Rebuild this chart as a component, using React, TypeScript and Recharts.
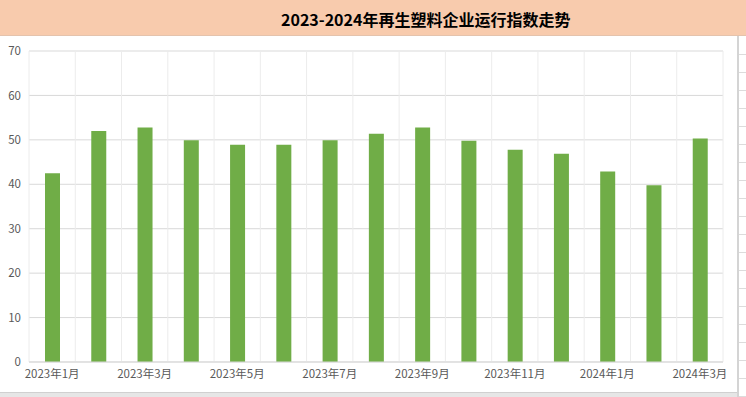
import { BarChart, Bar, XAxis, YAxis, CartesianGrid } from "recharts";

// months shown on the category axis
const months = [
  "2023年1月", "2023年2月", "2023年3月", "2023年4月", "2023年5月",
  "2023年6月", "2023年7月", "2023年8月", "2023年9月", "2023年10月",
  "2023年11月", "2023年12月", "2024年1月", "2024年2月", "2024年3月",
];

// operating index
const indexValues = [
  42.5, 52.0, 52.8, 49.9, 48.9, 48.9, 49.9, 51.4, 52.8, 49.8, 47.8, 46.9, 42.9, 39.8, 50.3,
];

const yTicks = [0, 10, 20, 30, 40, 50, 60, 70];

const title = "2023-2024年再生塑料企业运行指数走势";

const data = months.map((m, i) => ({ month: m, value: indexValues[i] }));

const FONT = '"Noto Sans CJK SC", "Noto Sans", sans-serif';
const tickStyle = { fill: "#595959", fontSize: 11.5, fontFamily: FONT };

// spreadsheet row lines on the right strip
const rowLines = Array.from({ length: 20 }, (_, i) => 36 + i * 18);

export default function App() {
  return (
    <div
      style={{
        position: "absolute",
        left: 0,
        top: 0,
        width: 746,
        height: 397,
        background: "#e6e6e6",
        overflow: "hidden",
      }}
    >
      {/* title band */}
      <div
        style={{
          position: "absolute",
          left: 0,
          top: 0,
          width: 746,
          height: 36,
          background: "#f8cbad",
          borderBottom: "1px solid #e4c3ad",
          boxSizing: "border-box",
        }}
      >
        <div
          style={{
            position: "absolute",
            left: 281,
            top: 7,
            fontFamily: FONT,
            fontWeight: 700,
            fontSize: 16,
            color: "#000",
            whiteSpace: "nowrap",
          }}
        >
          {title}
        </div>
      </div>

      {/* right strip */}
      <div
        style={{
          position: "absolute",
          left: 737,
          top: 36,
          width: 9,
          height: 361,
          background: "#fff",
          borderLeft: "2px solid #d4d4d4",
          boxSizing: "border-box",
        }}
      >
        {rowLines.map((y) => (
          <div
            key={y}
            style={{
              position: "absolute",
              left: 0,
              top: y - 36 + 18,
              width: 9,
              height: 1,
              background: "#dcdcdc",
            }}
          />
        ))}
      </div>

      {/* chart panel */}
      <div
        style={{
          position: "absolute",
          left: 0,
          top: 36,
          width: 737,
          height: 357,
          background: "#fff",
          borderBottom: "1px solid #d0d0d0",
          boxSizing: "border-box",
        }}
      >
        <BarChart
          width={737}
          height={356}
          data={data}
          margin={{ top: 15, right: 14, left: 0, bottom: 0 }}
          barCategoryGap="34%"
        >
          <CartesianGrid
            vertical={false}
            stroke="#d9d9d9"
            strokeWidth={1}
          />
          <CartesianGrid
            horizontal={false}
            stroke="#ececec"
            strokeWidth={1}
            verticalCoordinatesGenerator={({ offset }: any) =>
              months.map((_, i) => offset.left + (i * offset.width) / months.length).concat(offset.left + offset.width)
            }
          />
          <XAxis
            dataKey="month"
            interval={1}
            tickLine={false}
            axisLine={{ stroke: "#d9d9d9" }}
            tick={tickStyle}
            height={30}
          />
          <YAxis
            domain={[0, 70]}
            ticks={yTicks}
            tickLine={false}
            axisLine={false}
            tick={tickStyle}
            width={29}
          />
          <Bar dataKey="value" fill="#70ad47" barSize={15} isAnimationActive={false} />
        </BarChart>
      </div>
    </div>
  );
}
